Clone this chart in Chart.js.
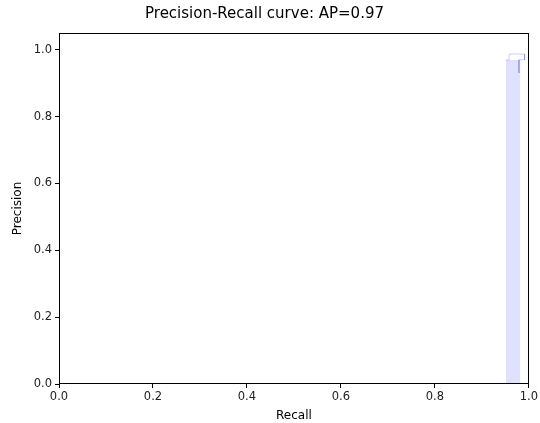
<!DOCTYPE html>
<html>
<head>
<meta charset="utf-8">
<script src="https://cdn.jsdelivr.net/npm/chart.js@4/dist/chart.umd.min.js"></script>
<style>
  html, body { margin: 0; padding: 0; background: #fff; }
  #wrap { width: 540px; height: 423px; }
</style>
</head>
<body>
<div id="wrap"><canvas id="prChart"></canvas></div>
<script>
// step line (where='post')
const recallLine = [0.951, 0.958, 0.958, 0.991, 0.991, 0.979, 0.979];
const precisionLine = [0.969, 0.969, 0.987, 0.987, 0.970, 0.970, 0.930];
// filled area under the curve
const recallFill = [0.951, 0.958, 0.982];
const precisionFill = [0.969, 0.969, 0.969];
const xTicks = [0.0, 0.2, 0.4, 0.6, 0.8, 1.0];
const yTicks = [0.0, 0.2, 0.4, 0.6, 0.8, 1.0];

const toPoints = (xs, ys) => xs.map((x, i) => ({ x, y: ys[i] }));

// draws all four spines like matplotlib
const frame = {
    id: 'frame',
    afterDraw(chart) {
        const { ctx, chartArea: a } = chart;
        ctx.save();
        ctx.strokeStyle = '#000';
        ctx.lineWidth = 1;
        ctx.strokeRect(Math.round(a.left) + 0.5, Math.round(a.top) + 0.5,
            Math.round(a.right - a.left) - 1, Math.round(a.bottom - a.top) - 1);
        ctx.restore();
    }
};

const tickFont = { family: 'DejaVu Sans', size: 11.5 };
const labelFont = { family: 'DejaVu Sans', size: 12 };

new Chart(document.getElementById('prChart'), {
    type: 'line',
    data: {
        datasets: [
            {
                data: toPoints(recallFill, precisionFill),
                stepped: 'after',
                borderWidth: 0,
                borderColor: 'rgba(0,0,255,0)',
                backgroundColor: 'rgba(0,0,255,0.12)',
                fill: 'origin',
                pointRadius: 0
            },
            {
                data: toPoints(recallLine, precisionLine),
                borderWidth: 1,
                borderColor: 'rgba(0,0,255,0.2)',
                fill: false,
                pointRadius: 0,
                tension: 0
            }
        ]
    },
    options: {
        responsive: true,
        maintainAspectRatio: false,
        animation: false,
        layout: { padding: { left: 0, right: 11, top: 0, bottom: 0 } },
        plugins: {
            legend: { display: false },
            tooltip: { enabled: false },
            title: {
                display: true,
                text: 'Precision-Recall curve: AP=0.97',
                color: '#000',
                font: { family: 'DejaVu Sans', size: 15, weight: 'normal' },
                padding: { top: 5, bottom: 10 }
            }
        },
        scales: {
            x: {
                type: 'linear',
                min: 0,
                max: 1,
                afterBuildTicks: s => { s.ticks = xTicks.map(v => ({ value: v })); },
                afterFit: s => { s.height = 39; },
                border: { display: false },
                grid: { drawOnChartArea: false, drawTicks: true, tickLength: 4, color: '#000' },
                ticks: { color: '#222', font: tickFont, padding: 2, maxRotation: 0,
                    callback: v => v.toFixed(1) },
                title: { display: true, text: 'Recall', color: '#000', font: labelFont, padding: 0 }
            },
            y: {
                type: 'linear',
                min: 0,
                max: 1.05,
                afterBuildTicks: s => { s.ticks = yTicks.map(v => ({ value: v })); },
                afterFit: s => { s.width = 59; },
                border: { display: false },
                grid: { drawOnChartArea: false, drawTicks: true, tickLength: 4, color: '#000' },
                ticks: { color: '#222', font: tickFont, padding: 3,
                    callback: v => v.toFixed(1) },
                title: { display: true, text: 'Precision', color: '#000', font: labelFont, padding: { top: 11, bottom: 0 } }
            }
        }
    },
    plugins: [frame]
});
</script>
</body>
</html>
